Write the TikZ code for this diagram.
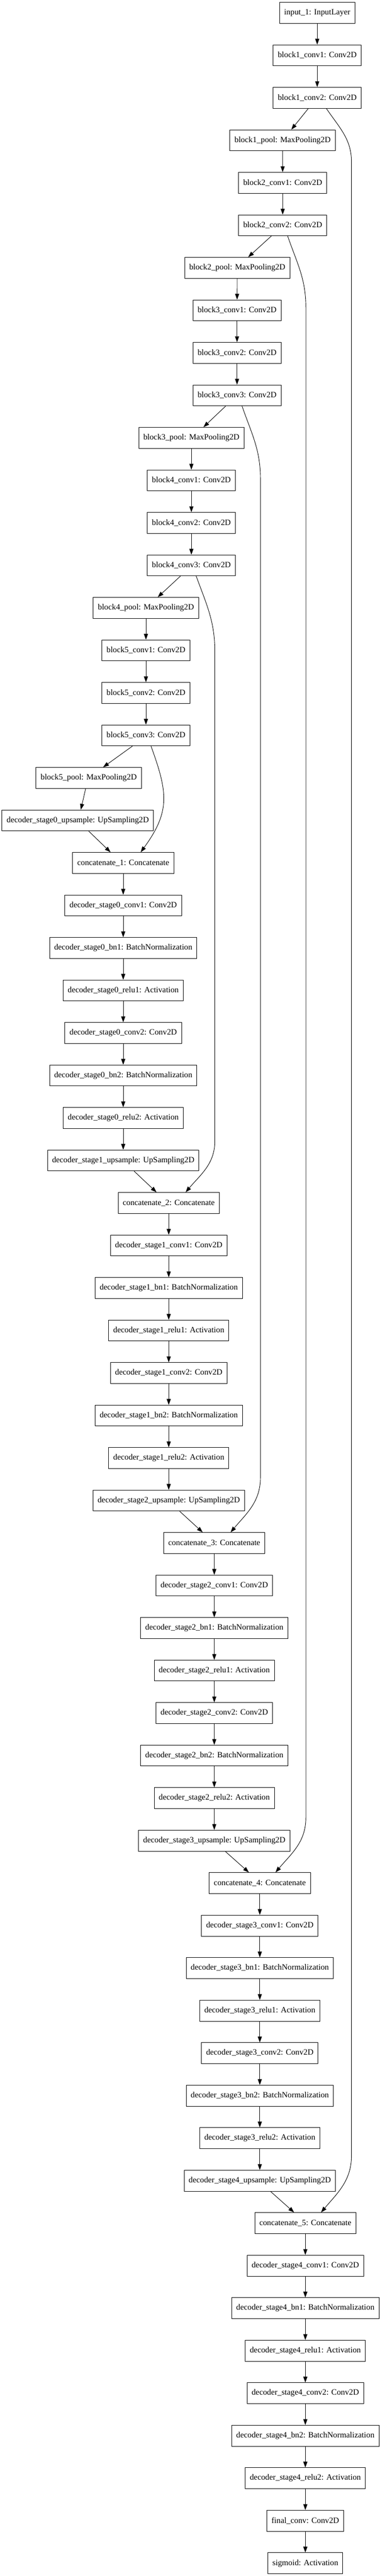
\documentclass[tikz,border=0pt]{standalone}
\usepackage{fontspec}
\setmainfont{Liberation Serif}
\usetikzlibrary{arrows.meta}
\tikzset{
  layer/.style={draw, line width=0.8pt, rectangle, minimum height=36pt,
    inner xsep=7.92pt, inner ysep=0pt, font=\fontsize{14}{16.8}\selectfont},
  edge/.style={line width=0.8pt, -{Triangle[length=10pt,width=7pt]}}
}
\begin{document}
\begin{tikzpicture}[x=0.75pt, y=-73.02pt]
  \useasboundingbox (0,-0.301) rectangle (869,60.301);
  % encoder
  \node[layer] (input) at (726,0) {input\_1: InputLayer};
  \node[layer] (b1c1) at (726,1) {block1\_conv1: Conv2D};
  \node[layer] (b1c2) at (726,2) {block1\_conv2: Conv2D};
  \node[layer] (b1p) at (646.7,3) {block1\_pool: MaxPooling2D};
  \node[layer] (b2c1) at (647,4) {block2\_conv1: Conv2D};
  \node[layer] (b2c2) at (647,5) {block2\_conv2: Conv2D};
  \node[layer] (b2p) at (543,6) {block2\_pool: MaxPooling2D};
  \node[layer] (b3c1) at (542.5,7) {block3\_conv1: Conv2D};
  \node[layer] (b3c2) at (542.5,8) {block3\_conv2: Conv2D};
  \node[layer] (b3c3) at (542.5,9) {block3\_conv3: Conv2D};
  \node[layer] (b3p) at (438,10) {block3\_pool: MaxPooling2D};
  \node[layer] (b4c1) at (438,11) {block4\_conv1: Conv2D};
  \node[layer] (b4c2) at (438,12) {block4\_conv2: Conv2D};
  \node[layer] (b4c3) at (438,13) {block4\_conv3: Conv2D};
  \node[layer] (b4p) at (334,14) {block4\_pool: MaxPooling2D};
  \node[layer] (b5c1) at (334,15) {block5\_conv1: Conv2D};
  \node[layer] (b5c2) at (334,16) {block5\_conv2: Conv2D};
  \node[layer] (b5c3) at (334,17) {block5\_conv3: Conv2D};
  \node[layer] (b5p) at (203,18) {block5\_pool: MaxPooling2D};
  % decoder stage 0
  \node[layer] (d0up) at (178,19) {decoder\_stage0\_upsample: UpSampling2D};
  \node[layer] (cat1) at (282,20) {concatenate\_1: Concatenate};
  \node[layer] (d0c1) at (282,21) {decoder\_stage0\_conv1: Conv2D};
  \node[layer] (d0b1) at (282,22) {decoder\_stage0\_bn1: BatchNormalization};
  \node[layer] (d0r1) at (282,23) {decoder\_stage0\_relu1: Activation};
  \node[layer] (d0c2) at (282,24) {decoder\_stage0\_conv2: Conv2D};
  \node[layer] (d0b2) at (282,25) {decoder\_stage0\_bn2: BatchNormalization};
  \node[layer] (d0r2) at (282,26) {decoder\_stage0\_relu2: Activation};
  % decoder stage 1
  \node[layer] (d1up) at (282,27) {decoder\_stage1\_upsample: UpSampling2D};
  \node[layer] (cat2) at (386.2,28) {concatenate\_2: Concatenate};
  \node[layer] (d1c1) at (386.2,29) {decoder\_stage1\_conv1: Conv2D};
  \node[layer] (d1b1) at (386.2,30) {decoder\_stage1\_bn1: BatchNormalization};
  \node[layer] (d1r1) at (386.2,31) {decoder\_stage1\_relu1: Activation};
  \node[layer] (d1c2) at (386.2,32) {decoder\_stage1\_conv2: Conv2D};
  \node[layer] (d1b2) at (386.2,33) {decoder\_stage1\_bn2: BatchNormalization};
  \node[layer] (d1r2) at (386.2,34) {decoder\_stage1\_relu2: Activation};
  % decoder stage 2
  \node[layer] (d2up) at (386.2,35) {decoder\_stage2\_upsample: UpSampling2D};
  \node[layer] (cat3) at (490.4,36) {concatenate\_3: Concatenate};
  \node[layer] (d2c1) at (490.4,37) {decoder\_stage2\_conv1: Conv2D};
  \node[layer] (d2b1) at (490.4,38) {decoder\_stage2\_bn1: BatchNormalization};
  \node[layer] (d2r1) at (490.4,39) {decoder\_stage2\_relu1: Activation};
  \node[layer] (d2c2) at (490.4,40) {decoder\_stage2\_conv2: Conv2D};
  \node[layer] (d2b2) at (490.4,41) {decoder\_stage2\_bn2: BatchNormalization};
  \node[layer] (d2r2) at (490.4,42) {decoder\_stage2\_relu2: Activation};
  % decoder stage 3
  \node[layer] (d3up) at (490.4,43) {decoder\_stage3\_upsample: UpSampling2D};
  \node[layer] (cat4) at (594.6,44) {concatenate\_4: Concatenate};
  \node[layer] (d3c1) at (594.6,45) {decoder\_stage3\_conv1: Conv2D};
  \node[layer] (d3b1) at (594.6,46) {decoder\_stage3\_bn1: BatchNormalization};
  \node[layer] (d3r1) at (594.6,47) {decoder\_stage3\_relu1: Activation};
  \node[layer] (d3c2) at (594.6,48) {decoder\_stage3\_conv2: Conv2D};
  \node[layer] (d3b2) at (594.6,49) {decoder\_stage3\_bn2: BatchNormalization};
  \node[layer] (d3r2) at (594.6,50) {decoder\_stage3\_relu2: Activation};
  % decoder stage 4
  \node[layer] (d4up) at (594.6,51) {decoder\_stage4\_upsample: UpSampling2D};
  \node[layer] (cat5) at (698.8,52) {concatenate\_5: Concatenate};
  \node[layer] (d4c1) at (698.8,53) {decoder\_stage4\_conv1: Conv2D};
  \node[layer] (d4b1) at (698.8,54) {decoder\_stage4\_bn1: BatchNormalization};
  \node[layer] (d4r1) at (698.8,55) {decoder\_stage4\_relu1: Activation};
  \node[layer] (d4c2) at (698.8,56) {decoder\_stage4\_conv2: Conv2D};
  \node[layer] (d4b2) at (698.8,57) {decoder\_stage4\_bn2: BatchNormalization};
  \node[layer] (d4r2) at (698.8,58) {decoder\_stage4\_relu2: Activation};
  \node[layer] (final) at (698.8,59) {final\_conv: Conv2D};
  \node[layer] (sig) at (698.8,60) {sigmoid: Activation};
  % straight links
  \foreach \a/\b in {input/b1c1, b1c1/b1c2, b1p/b2c1, b2c1/b2c2, b2p/b3c1,
      b3c1/b3c2, b3c2/b3c3, b3p/b4c1, b4c1/b4c2, b4c2/b4c3, b4p/b5c1,
      b5c1/b5c2, b5c2/b5c3,
      cat1/d0c1, d0c1/d0b1, d0b1/d0r1, d0r1/d0c2, d0c2/d0b2, d0b2/d0r2, d0r2/d1up,
      cat2/d1c1, d1c1/d1b1, d1b1/d1r1, d1r1/d1c2, d1c2/d1b2, d1b2/d1r2, d1r2/d2up,
      cat3/d2c1, d2c1/d2b1, d2b1/d2r1, d2r1/d2c2, d2c2/d2b2, d2b2/d2r2, d2r2/d3up,
      cat4/d3c1, d3c1/d3b1, d3b1/d3r1, d3r1/d3c2, d3c2/d3b2, d3b2/d3r2, d3r2/d4up,
      cat5/d4c1, d4c1/d4b1, d4b1/d4r1, d4r1/d4c2, d4c2/d4b2, d4b2/d4r2, d4r2/final,
      final/sig}
    \draw[edge] (\a) -- (\b);
  % slanted links
  \draw[edge] ([xshift=-15.3pt]b1c2.south) -- ([xshift=15pt]b1p.north);
  \draw[edge] ([xshift=-19.5pt]b2c2.south) -- ([xshift=18.75pt]b2p.north);
  \draw[edge] ([xshift=-19.5pt]b3c3.south) -- ([xshift=20.7pt]b3p.north);
  \draw[edge] ([xshift=-18.75pt]b4c3.south) -- ([xshift=20.25pt]b4p.north);
  \draw[edge] ([xshift=-23.25pt]b5c3.south) -- ([xshift=24.75pt]b5p.north);
  \draw[edge] ([xshift=-5.25pt]b5p.south) -- ([xshift=5.25pt]d0up.north);
  \draw[edge] ([xshift=18.75pt]d0up.south) -- ([xshift=-21.75pt]cat1.north);
  \draw[edge] ([xshift=18.75pt]d1up.south) -- ([xshift=-21pt]cat2.north);
  \draw[edge] ([xshift=18.75pt]d2up.south) -- ([xshift=-19.9pt]cat3.north);
  \draw[edge] ([xshift=18.75pt]d3up.south) -- ([xshift=-18.75pt]cat4.north);
  \draw[edge] ([xshift=18.3pt]d4up.south) -- ([xshift=-19.2pt]cat5.north);
  % skip links
  \draw[edge] ([xshift=15.75pt]b1c2.south) to[out=-56,in=90] (804.4,3.51)
    -- (804.4,50.41) to[out=-90,in=50] ([xshift=27pt]cat5.north);
  \draw[edge] ([xshift=8.5pt]b2c2.south) to[out=-71,in=90] (700,6.93)
    -- (700,42.46) to[out=-90,in=50] ([xshift=27pt]cat4.north);
  \draw[edge] ([xshift=8.6pt]b3c3.south) to[out=-71,in=90] (596,10.96)
    -- (596,34.46) to[out=-90,in=50] ([xshift=28pt]cat3.north);
  \draw[edge] ([xshift=8.25pt]b4c3.south) to[out=-70,in=90] (491.7,15.03)
    -- (491.7,26.54) to[out=-90,in=50] ([xshift=29pt]cat2.north);
  \draw[edge] ([xshift=8.7pt]b5c3.south) to[out=-70,in=54,looseness=1.2] ([xshift=30pt]cat1.north);
\end{tikzpicture}
\end{document}
